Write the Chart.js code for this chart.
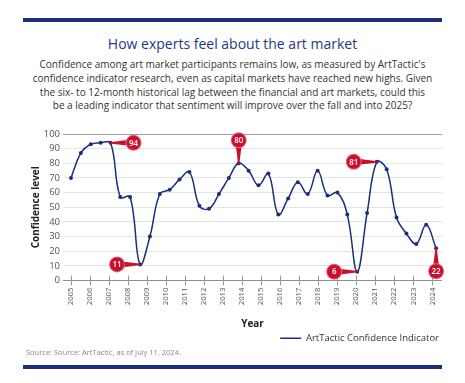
<!DOCTYPE html>
<html>
<head>
<meta charset="utf-8">
<script src="https://cdn.jsdelivr.net/npm/chart.js@4.4.1/dist/chart.umd.min.js"></script>
<style>
  body { margin: 0; width: 465px; height: 383px; background: #fff; position: relative; overflow: hidden; font-family: "Open Sans", sans-serif; }
  .bar { position: absolute; left: 23px; width: 419px; height: 4px; background: #1b2f7d; }
  #barTop { top: 18px; }
  #barBottom { top: 365px; }
  h1 { position: absolute; top: 34px; left: 0; width: 465px; margin: 0; text-align: center; font-weight: 400; font-size: 14px; color: #1f3788; }
  .sub { position: absolute; top: 58px; left: 0; width: 465px; margin: 0; text-align: center; font-size: 10px; line-height: 13.8px; color: #333; }
  .src { position: absolute; left: 26px; top: 347px; font-size: 7.5px; color: #888; }
  #wrap { position: absolute; left: 0; top: 120px; width: 465px; height: 233px; }
</style>
</head>
<body>
<div class="bar" id="barTop"></div>
<h1>How experts feel about the art market</h1>
<p class="sub">Confidence among art market participants remains low, as measured by ArtTactic's<br>confidence indicator research, even as capital markets have reached new highs. Given<br>the six- to 12-month historical lag between the financial and art markets, could this<br>be a leading indicator that sentiment will improve over the fall and into 2025?</p>
<div id="wrap"><canvas id="myChart"></canvas></div>
<div class="src">Source: Source: ArtTactic, as of July 11, 2024.</div>
<div class="bar" id="barBottom"></div>
<script>
// survey dates (decimal years)
var surveyDates = [2005.00, 2005.52, 2006.04, 2006.56, 2007.08, 2007.59, 2008.11, 2008.63,
  2009.15, 2009.67, 2010.19, 2010.71, 2011.23, 2011.75, 2012.26, 2012.78, 2013.30, 2013.82,
  2014.34, 2014.86, 2015.38, 2015.90, 2016.42, 2016.93, 2017.45, 2017.97, 2018.49, 2019.01,
  2019.53, 2020.05, 2020.57, 2021.08, 2021.60, 2022.12, 2022.64, 2023.16, 2023.68, 2024.20];
var confidence = [70, 87, 93, 94, 94, 57, 57, 11, 30, 59, 62, 69, 74, 51, 49, 59, 70, 80,
  75, 65, 73, 45, 56, 67, 59, 75, 58, 60, 45, 6, 46, 81, 76, 43, 32, 25, 38, 22];
var yearTicks = [2005, 2006, 2007, 2008, 2009, 2010, 2011, 2012, 2013, 2014, 2015, 2016,
  2017, 2018, 2019, 2020, 2021, 2022, 2023, 2024];
// callout pins: point index and side of the bubble
var callouts = [
  { index: 4, side: "right" },
  { index: 7, side: "left" },
  { index: 17, side: "up" },
  { index: 29, side: "left" },
  { index: 31, side: "left" },
  { index: 37, side: "down" }
];

var navy = "#1b2f7d";

var yearMarks = {
  id: "yearMarks",
  beforeDatasetsDraw: function (chart) {
    var ctx = chart.ctx, x = chart.scales.x, y0 = chart.scales.y.getPixelForValue(0);
    ctx.save();
    ctx.strokeStyle = "#999";
    ctx.lineWidth = 1;
    yearTicks.forEach(function (yr) {
      var px = Math.round(x.getPixelForValue(yr)) + 0.5;
      ctx.beginPath();
      ctx.moveTo(px, y0 - 5);
      ctx.lineTo(px, y0 + 5);
      ctx.stroke();
    });
    ctx.restore();
  }
};

var pins = {
  id: "pins",
  afterDatasetsDraw: function (chart) {
    var ctx = chart.ctx, meta = chart.getDatasetMeta(0);
    ctx.save();
    callouts.forEach(function (c) {
      var pt = meta.data[c.index];
      var dx = 0, dy = 0, d = 23, r = 7;
      if (c.side === "right") dx = 1;
      if (c.side === "left") dx = -1;
      if (c.side === "up") dy = -1;
      if (c.side === "down") dy = 1;
      var cx = pt.x + dx * d, cy = pt.y + dy * d;
      var nx = -dy, ny = dx;
      ctx.fillStyle = "#c8102e";
      ctx.beginPath();
      ctx.moveTo(cx + nx * 3.5, cy + ny * 3.5);
      ctx.lineTo(pt.x - dx * 1 + nx * 0.6, pt.y - dy * 1 + ny * 0.6);
      ctx.lineTo(pt.x - dx * 1 - nx * 0.6, pt.y - dy * 1 - ny * 0.6);
      ctx.lineTo(cx - nx * 3.5, cy - ny * 3.5);
      ctx.closePath();
      ctx.fill();
      ctx.beginPath();
      ctx.arc(cx, cy, r + 1, 0, Math.PI * 2);
      ctx.fillStyle = "#e46a7c";
      ctx.fill();
      ctx.beginPath();
      ctx.arc(cx, cy, r, 0, Math.PI * 2);
      ctx.fillStyle = "#c8102e";
      ctx.fill();
      ctx.fillStyle = "#fff";
      ctx.font = "600 8px 'Open Sans'";
      ctx.textAlign = "center";
      ctx.textBaseline = "middle";
      ctx.fillText(String(confidence[c.index]), cx, cy + 0.5);
    });
    ctx.restore();
  }
};

var ctx = document.getElementById("myChart").getContext("2d");
var myChart = new Chart(ctx, {
  type: "line",
  data: {
    datasets: [
      {
        label: "ArtTactic Confidence Indicator",
        data: surveyDates.map(function (d, i) { return { x: d, y: confidence[i] }; }),
        borderColor: navy,
        backgroundColor: navy,
        borderWidth: 1.5,
        pointRadius: 2,
        pointBackgroundColor: navy,
        pointBorderWidth: 0,
        tension: 0.4,
        fill: false,
      },
    ],
  },
  options: {
    responsive: true,
    maintainAspectRatio: false,
    animation: false,
    layout: { padding: { top: 14, right: 23, left: 30, bottom: 0 } },
    plugins: {
      tooltip: { enabled: false },
      legend: {
        position: "bottom",
        align: "end",
        labels: {
          boxWidth: 21,
          boxHeight: 1.5,
          padding: 3,
          color: "#333",
          font: { family: "Open Sans", size: 9.5 },
          generateLabels: function (chart) {
            return Chart.defaults.plugins.legend.labels.generateLabels(chart).map(function (l) {
              l.lineWidth = 0;
              return l;
            });
          },
        },
      },
    },
    scales: {
      x: {
        type: "linear",
        min: 2004.58,
        max: 2024.51,
        afterBuildTicks: function (s) {
          s.ticks = yearTicks.map(function (v) { return { value: v }; });
        },
        afterFit: function (s) { s.height = 50; },
        grid: { display: false, drawTicks: false },
        border: { display: false },
        ticks: {
          autoSkip: false,
          minRotation: 90,
          maxRotation: 90,
          padding: 7,
          color: "#555",
          font: { family: "Open Sans", size: 7.8 },
          callback: function (v) { return String(v); },
        },
        title: {
          display: true,
          text: "Year",
          color: "#222",
          padding: 0,
          font: { family: "Open Sans", size: 10, weight: "bold" },
        },
      },
      y: {
        min: 0,
        max: 100,
        afterFit: function (s) { s.width = 33; },
        grid: {
          drawTicks: false,
          color: function (c) {
            if (c.tick.value === 100) return "#a0a0a0";
            if (c.tick.value === 0) return "#909090";
            return "#e3e3e3";
          },
        },
        border: { display: false },
        ticks: {
          stepSize: 10,
          padding: 3,
          color: "#555",
          font: { family: "Open Sans", size: 9.5 },
        },
        title: {
          display: true,
          text: "Confidence level",
          color: "#222",
          padding: 0,
          font: { family: "Open Sans", size: 10, weight: "bold" },
        },
      },
    },
  },
  plugins: [yearMarks, pins],
});
</script>
</body>
</html>
